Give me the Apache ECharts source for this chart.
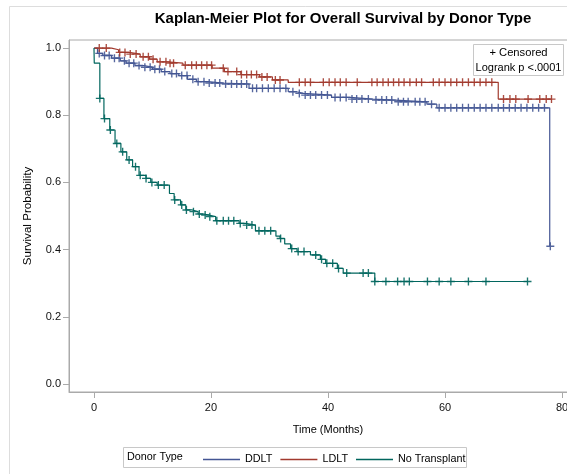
<!DOCTYPE html>
<html>
<head>
<meta charset="utf-8">
<script src="https://cdn.jsdelivr.net/npm/echarts@6/dist/echarts.min.js"></script>
<style>
  html, body { margin: 0; padding: 0; background: #fff; overflow: hidden; }
  #chart { width: 600px; height: 474px; }
</style>
</head>
<body>
<div id="chart"></div>
<script>
// Kaplan-Meier estimates by donor type: event times (months) and survival after each event
const ddltEventTimes = [0.6, 1.5, 3.0, 4.5, 5.5, 7.0, 8.5, 10.0, 11.5, 13.0, 14.5, 16.0, 17.5, 19.5, 22.0, 26.5, 33.2, 34.6, 35.8, 40.6, 43.8, 47.7, 51.5, 56.9, 58.6, 77.9];
const ddltSurv       = [0.984, 0.978, 0.970, 0.962, 0.955, 0.948, 0.943, 0.937, 0.930, 0.924, 0.918, 0.907, 0.900, 0.896, 0.893, 0.880, 0.870, 0.865, 0.860, 0.853, 0.848, 0.845, 0.840, 0.833, 0.822, 0.410];
const ddltEnd = 78.0;
const ddltCensor = [0.9, 1.8, 2.6, 3.5, 4.3, 5.2, 6.0, 6.8, 7.7, 8.7, 9.6, 10.4, 11.2, 12.1, 13.3, 14.1, 15.0, 15.9, 16.9, 17.8, 18.8, 19.7, 20.7, 21.5, 22.5, 23.5, 24.4, 25.2, 26.1, 27.1, 27.8, 28.8, 29.8, 30.8, 31.8, 32.8, 34.0, 35.1, 36.1, 37.0, 37.9, 38.9, 39.9, 41.2, 42.1, 43.1, 44.1, 44.9, 45.8, 46.9, 48.2, 49.2, 50.0, 50.9, 52.0, 52.9, 53.7, 54.9, 55.7, 56.6, 57.7, 59.0, 60.0, 61.0, 62.0, 63.0, 64.0, 65.0, 66.0, 67.0, 68.0, 69.1, 70.0, 71.0, 72.0, 73.0, 74.0, 75.0, 76.0, 77.0, 78.0];

const ldltEventTimes = [3.0, 4.2, 6.0, 7.9, 9.5, 10.8, 12.5, 15.2, 20.2, 22.3, 25.1, 28.3, 30.5, 33.2, 69.1];
const ldltSurv       = [0.995, 0.987, 0.982, 0.974, 0.967, 0.959, 0.955, 0.949, 0.940, 0.930, 0.921, 0.914, 0.905, 0.898, 0.848];
const ldltEnd = 78.3;
const ldltCensor = [0.9, 2.1, 4.4, 5.3, 6.2, 7.2, 8.4, 9.3, 10.1, 11.3, 12.3, 13.0, 13.6, 15.6, 16.7, 17.5, 18.4, 19.3, 20.1, 22.1, 22.9, 24.4, 25.2, 26.1, 26.9, 27.8, 28.7, 29.6, 31.0, 31.8, 35.1, 36.1, 37.0, 39.2, 40.2, 41.2, 42.1, 43.1, 45.0, 47.5, 48.4, 49.4, 50.3, 51.2, 52.1, 53.0, 54.0, 55.1, 56.0, 58.0, 59.0, 60.0, 61.0, 62.0, 63.0, 64.0, 65.0, 66.0, 67.0, 68.0, 70.0, 71.1, 72.1, 74.2, 76.2, 77.3, 78.2];

const noTxEventTimes = [0.05, 1.0, 1.7, 2.7, 3.6, 4.6, 5.6, 6.6, 7.7, 8.9, 9.7, 10.8, 12.9, 13.7, 14.8, 15.7, 16.8, 17.8, 18.8, 19.6, 20.8, 24.8, 25.9, 27.6, 31.1, 31.8, 32.6, 33.6, 34.7, 37.0, 38.7, 39.6, 41.6, 42.6, 48.0];
const noTxSurv       = [0.955, 0.850, 0.790, 0.756, 0.716, 0.691, 0.667, 0.647, 0.621, 0.612, 0.600, 0.592, 0.567, 0.548, 0.533, 0.518, 0.513, 0.506, 0.503, 0.498, 0.486, 0.478, 0.473, 0.456, 0.440, 0.433, 0.417, 0.403, 0.394, 0.384, 0.371, 0.359, 0.344, 0.330, 0.305];
const noTxEnd = 74.1;
const noTxCensor = [1.0, 1.8, 2.8, 3.9, 4.9, 6.0, 7.1, 7.9, 8.9, 9.9, 11.0, 12.0, 13.8, 15.0, 15.8, 17.0, 18.0, 19.0, 19.8, 21.0, 22.1, 23.0, 23.9, 25.0, 26.1, 27.0, 28.2, 29.2, 30.2, 31.9, 33.8, 34.9, 35.9, 37.9, 38.9, 39.8, 40.8, 41.8, 43.2, 46.0, 46.9, 48.0, 49.9, 51.9, 53.0, 53.9, 57.0, 59.0, 61.0, 64.0, 67.0, 74.1];

const groupNames = ['DDLT', 'LDLT', 'No Transplant'];
const xTicks = [0, 20, 40, 60, 80];
const yTicks = [0, 0.2, 0.4, 0.6, 0.8, 1.0];

const colors = ['#445694', '#A23A2E', '#01665E'];
const FONT = '"Liberation Sans", Arial, sans-serif';

function stepPoints(times, surv, end) {
  const pts = [[0, 1]];
  times.forEach((t, i) => pts.push([t, surv[i]]));
  pts.push([end, surv[surv.length - 1]]);
  return pts;
}
function survAt(times, surv, t) {
  let s = 1;
  for (let i = 0; i < times.length; i++) if (times[i] <= t) s = surv[i];
  return s;
}
function censorPoints(times, surv, cens) {
  return cens.map(t => [t, survAt(times, surv, t)]);
}

const groups = [
  [ddltEventTimes, ddltSurv, ddltEnd, ddltCensor],
  [ldltEventTimes, ldltSurv, ldltEnd, ldltCensor],
  [noTxEventTimes, noTxSurv, noTxEnd, noTxCensor]
];

const plusSymbol = 'path://M-0.17,-1H0.17V-0.17H1V0.17H0.17V1H-0.17V0.17H-1V-0.17H-0.17Z';

const series = [];
groups.forEach((g, i) => {
  series.push({
    name: groupNames[i],
    type: 'line',
    step: 'end',
    data: stepPoints(g[0], g[1], g[2]),
    showSymbol: false,
    symbol: 'none',
    lineStyle: { color: colors[i], width: 1.2 },
    itemStyle: { color: colors[i] },
    z: 2
  });
});
groups.forEach((g, i) => {
  series.push({
    name: groupNames[i] + ' censored',
    type: 'scatter',
    data: censorPoints(g[0], g[1], g[3]),
    symbol: plusSymbol,
    symbolSize: 8,
    itemStyle: { color: colors[i], opacity: 0.9 },
    z: 3
  });
});

const chart = echarts.init(document.getElementById('chart'), null, { renderer: 'canvas' });
chart.setOption({
  animation: false,
  backgroundColor: '#ffffff',
  grid: { left: 69, top: 40, width: 518, height: 352, show: true, borderColor: '#aaaaaa', borderWidth: 1, containLabel: false },
  xAxis: {
    type: 'value',
    min: -4.27,
    max: 84.27,
    name: 'Time (Months)',
    nameLocation: 'middle',
    nameGap: 32,
    nameTextStyle: { fontFamily: FONT, fontSize: 11, color: '#000' },
    axisLine: { onZero: false, lineStyle: { color: '#aaaaaa' } },
    axisTick: { customValues: xTicks, length: 6, lineStyle: { color: '#aaaaaa' } },
    axisLabel: { customValues: xTicks, margin: 10, fontFamily: FONT, fontSize: 11, color: '#111' },
    splitLine: { show: false }
  },
  yAxis: {
    type: 'value',
    min: -0.024,
    max: 1.024,
    name: 'Survival Probability',
    nameLocation: 'middle',
    nameGap: 35,
    nameTextStyle: { fontFamily: FONT, fontSize: 11.6, color: '#000' },
    axisLine: { show: true, onZero: false, lineStyle: { color: '#aaaaaa' } },
    axisTick: { show: true, customValues: yTicks, length: 6, lineStyle: { color: '#aaaaaa' } },
    axisLabel: { customValues: yTicks, margin: 8, fontFamily: FONT, fontSize: 11, color: '#111', formatter: v => v.toFixed(1) },
    splitLine: { show: false }
  },
  legend: {
    data: groupNames,
    left: 198,
    top: 449,
    icon: 'rect',
    itemWidth: 37,
    itemHeight: 1.5,
    itemGap: 8,
    textStyle: { fontFamily: FONT, fontSize: 10.8, color: '#000' },
    selectedMode: false
  },
  graphic: [
    { type: 'rect', shape: { x: 9.5, y: 6.5, width: 640, height: 500 }, style: { fill: 'none', stroke: '#dddddd', lineWidth: 1 }, silent: true },
    { type: 'text', x: 343, y: 19, style: { text: 'Kaplan-Meier Plot for Overall Survival by Donor Type', font: 'bold 15px ' + FONT, fill: '#000', textAlign: 'center', textVerticalAlign: 'middle' }, silent: true },
    { type: 'rect', shape: { x: 123.5, y: 447.5, width: 343, height: 20 }, style: { fill: 'none', stroke: '#c8c8c8', lineWidth: 1 }, silent: true },
    { type: 'text', x: 127, y: 457.5, style: { text: 'Donor Type', font: '10.8px ' + FONT, fill: '#000', textVerticalAlign: 'middle' }, silent: true },
    { type: 'rect', shape: { x: 473.5, y: 44.5, width: 90, height: 31 }, style: { fill: '#fff', stroke: '#c8c8c8', lineWidth: 1 }, silent: true, z: 10 },
    { type: 'text', x: 518.5, y: 53, style: { text: '+ Censored', font: '11.2px ' + FONT, fill: '#000', textAlign: 'center', textVerticalAlign: 'middle' }, silent: true, z: 11 },
    { type: 'text', x: 518.5, y: 67.5, style: { text: 'Logrank p <.0001', font: '11px ' + FONT, fill: '#000', textAlign: 'center', textVerticalAlign: 'middle' }, silent: true, z: 11 }
  ],
  series: series
});
</script>
</body>
</html>
